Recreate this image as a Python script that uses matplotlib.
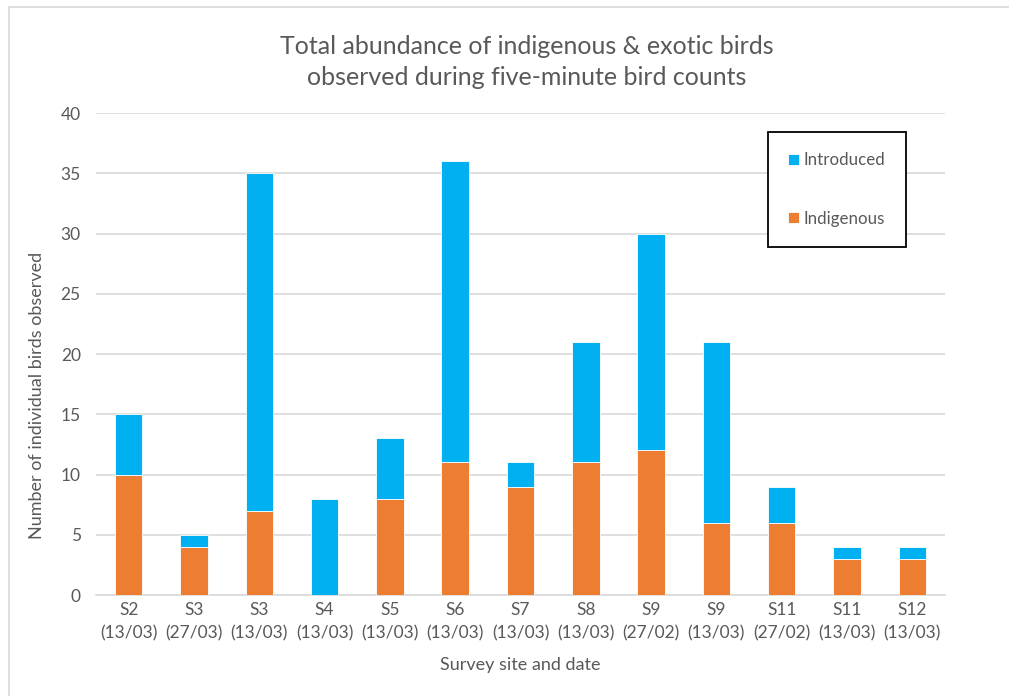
import matplotlib.pyplot as plt
import matplotlib.patches as patches
import numpy as np

plt.rcParams['font.family'] = ['Lato', 'DejaVu Sans']

sites = ["S2", "S3", "S3", "S4", "S5", "S6", "S7", "S8", "S9", "S9", "S11", "S11", "S12"]
dates = ["13/03", "27/03", "13/03", "13/03", "13/03", "13/03", "13/03", "13/03", "27/02", "13/03", "27/02", "13/03", "13/03"]
indigenous = [10, 4, 7, 0, 8, 11, 9, 11, 12, 6, 6, 3, 3]
introduced = [5, 1, 28, 8, 5, 25, 2, 10, 18, 15, 3, 1, 1]

text_col = "#595959"
orange = "#ED7D31"
blue = "#00B0F0"

fig = plt.figure(figsize=(10.09, 6.96), dpi=100)
ax = fig.add_axes([96 / 1009, 1 - 595 / 696, (945 - 96) / 1009, (595 - 113) / 696])

# chart frame (clipped at right and bottom like the original)
fig.patches.append(patches.Rectangle((9 / 1009, -0.05), 1.1, 1 - 7 / 696 + 0.05,
                                     transform=fig.transFigure, fill=False,
                                     edgecolor="#D9D9D9", linewidth=1.2))

x = np.arange(len(sites))
w = 0.42
ax.bar(x, indigenous, w, color=orange, edgecolor="white", linewidth=0.6, label="Indigenous", zorder=3)
ax.bar(x, introduced, w, bottom=indigenous, color=blue, edgecolor="white", linewidth=0.6,
       label="Introduced", zorder=3)

ax.set_xlim(-0.5, len(sites) - 0.5)
ax.set_ylim(0, 40)
ax.set_yticks(range(0, 41, 5))
ax.set_xticks(x)
ax.set_xticklabels([f"{s}\n({d})" for s, d in zip(sites, dates)], linespacing=1.55)
ax.yaxis.grid(True, color="#D9D9D9", linewidth=1.2, zorder=0)
ax.set_axisbelow(True)
for sp in ["top", "right", "left"]:
    ax.spines[sp].set_visible(False)
ax.spines["bottom"].set_color("#D9D9D9")
ax.spines["bottom"].set_linewidth(1.2)
ax.tick_params(axis="both", length=0, labelsize=12.5, colors=text_col)
ax.tick_params(axis="y", pad=11)
ax.tick_params(axis="x", pad=5)

ax.set_xlabel("Survey site and date", fontsize=13, color=text_col, labelpad=11)
fig.text(37 / 1009, 1 - 395 / 696, "Number of individual birds observed", rotation=90,
         ha="center", va="center", fontsize=13, color=text_col)

fig.text(527 / 1009, 1 - 62 / 696, "Total abundance of indigenous & exotic birds\nobserved during five-minute bird counts",
         ha="center", va="center", fontsize=18, color=text_col, linespacing=1.42)

handles, labels = ax.get_legend_handles_labels()
leg = ax.legend(handles[::-1], labels[::-1], loc="upper left",
                bbox_to_anchor=(768 / 1009, 1 - 132 / 696), bbox_transform=fig.transFigure,
                fancybox=False, edgecolor="black", framealpha=1, fontsize=12.2,
                handlelength=0.6, handleheight=0.6, handletextpad=0.3,
                labelspacing=2.5, borderpad=1.2, borderaxespad=0)
leg.get_frame().set_linewidth(1.3)
for t in leg.get_texts():
    t.set_color(text_col)

fig.savefig("out.png", dpi=100)
